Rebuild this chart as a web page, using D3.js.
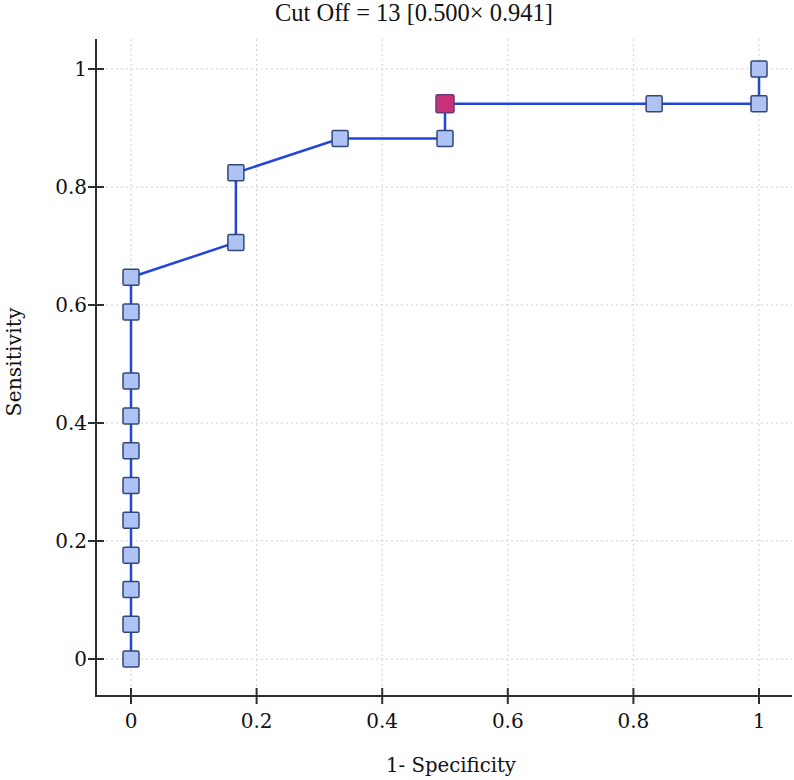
<!DOCTYPE html>
<html><head><meta charset="utf-8">
<script src="https://cdn.jsdelivr.net/npm/d3@7"></script>
<style>body{margin:0;background:#fff}svg{display:block}text{font-family:"DejaVu Serif","Liberation Serif",serif;fill:#111}</style>
</head><body>
<script>
const specificity1 = [0,0,0,0,0,0,0,0,0,0,0,0.167,0.167,0.333,0.5,0.5,0.833,1,1];
const sensitivity = [0,0.059,0.118,0.176,0.235,0.294,0.353,0.412,0.471,0.588,0.647,0.706,0.824,0.882,0.882,0.941,0.941,0.941,1];
const cutoffIndex = 15;
const xTicks = [0,0.2,0.4,0.6,0.8,1];
const yTicks = [0,0.2,0.4,0.6,0.8,1];
const titleText = "Cut Off = 13 [0.500× 0.941]";
const xTitle = "1- Specificity";
const yTitle = "Sensitivity";

(function(){
const W=794,H=780;
const svg=d3.select("body").append("svg").attr("width",W).attr("height",H);
const x=d3.scaleLinear().domain([0,1]).range([131,759]);
const y=d3.scaleLinear().domain([0,1]).range([659,69]);
const axX=96, axY=696, topY=39, rightX=792;

const g=svg.append("g");
g.selectAll(".vg").data(xTicks).join("line").attr("x1",d=>x(d)).attr("x2",d=>x(d)).attr("y1",topY).attr("y2",axY)
 .attr("stroke","#cfcfcf").attr("stroke-width",1).attr("stroke-dasharray","2,3");
g.selectAll(".hg").data(yTicks).join("line").attr("y1",d=>y(d)).attr("y2",d=>y(d)).attr("x1",axX).attr("x2",rightX)
 .attr("stroke","#cfcfcf").attr("stroke-width",1).attr("stroke-dasharray","2,3");

svg.append("line").attr("x1",axX).attr("x2",axX).attr("y1",topY).attr("y2",axY).attr("stroke","#2a2f35").attr("stroke-width",2);
svg.append("line").attr("x1",axX-1).attr("x2",rightX).attr("y1",axY).attr("y2",axY).attr("stroke","#2a2f35").attr("stroke-width",2);
svg.selectAll(".yt").data(yTicks).join("line").attr("x1",axX-8).attr("x2",axX+8).attr("y1",d=>y(d)).attr("y2",d=>y(d)).attr("stroke","#2a2f35").attr("stroke-width",2);
svg.selectAll(".xt").data(xTicks).join("line").attr("y1",axY-8).attr("y2",axY+8).attr("x1",d=>x(d)).attr("x2",d=>x(d)).attr("stroke","#2a2f35").attr("stroke-width",2);
svg.selectAll(".yl").data(yTicks).join("text").attr("x",axX-9).attr("y",d=>y(d)).attr("dy","0.36em").attr("text-anchor","end")
 .style("font-size","20px").text(d=>d3.format("")(d));
svg.selectAll(".xl").data(xTicks).join("text").attr("x",d=>x(d)).attr("y",728).attr("text-anchor","middle")
 .style("font-size","20px").text(d=>d3.format("")(d));

function fit(sel,target){
  const base=20; sel.style("font-size",base+"px");
  const w=sel.node().getComputedTextLength();
  sel.style("font-size",(base*target/w).toFixed(2)+"px");
}
const t=svg.append("text").attr("x",414).attr("y",21).attr("text-anchor","middle").style("font-family","Liberation Serif").text(titleText);
fit(t,278);
const xt=svg.append("text").attr("x",451).attr("y",772).attr("text-anchor","middle").text(xTitle);
fit(xt,130);
const yt=svg.append("text").attr("transform","translate(21,362) rotate(-90)").attr("text-anchor","middle").text(yTitle);
fit(yt,109);

const pts=specificity1.map((v,i)=>[v,sensitivity[i]]);
svg.append("path").datum(pts).attr("fill","none").attr("stroke","#2345dc").attr("stroke-width",2.5)
 .attr("d",d3.line().x(d=>x(d[0])).y(d=>y(d[1])));
const s=16;
svg.selectAll(".m").data(pts.filter((d,i)=>i!==cutoffIndex)).join("rect")
 .attr("x",d=>x(d[0])-s/2).attr("y",d=>y(d[1])-s/2).attr("width",s).attr("height",s).attr("rx",1.5)
 .attr("fill","#aec2f4").attr("stroke","#2f4878").attr("stroke-width",1.5);
svg.selectAll(".c").data([pts[cutoffIndex]]).join("rect")
 .attr("x",d=>x(d[0])-9).attr("y",d=>y(d[1])-9).attr("width",18).attr("height",18).attr("rx",1.5)
 .attr("fill","#c8307a").attr("stroke","#6a3a7a").attr("stroke-width",1.5);
})();
</script>
</body></html>
